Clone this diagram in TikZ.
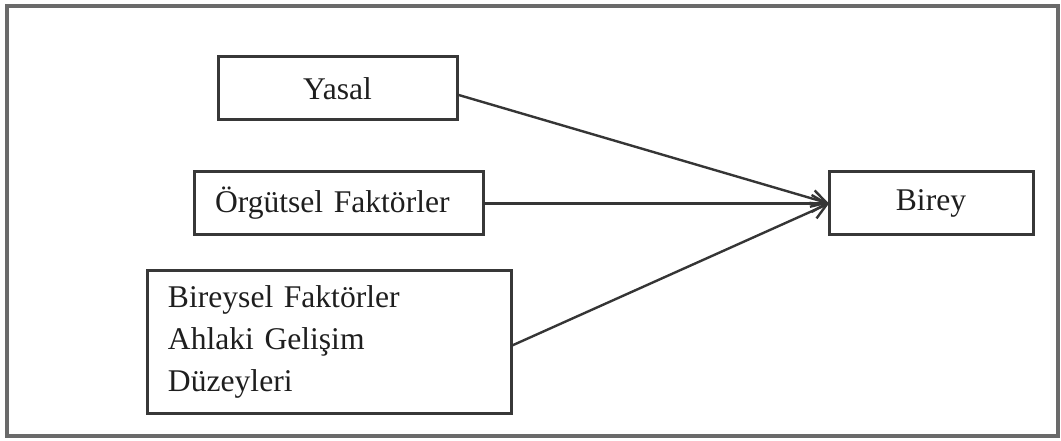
\documentclass[tikz,border=0pt]{standalone}
\usepackage{fontspec}
\setmainfont{Liberation Serif}
\usetikzlibrary{arrows.meta}
\definecolor{framegray}{HTML}{6A6A6A}
\definecolor{boxgray}{HTML}{383838}
\definecolor{inkgray}{HTML}{1E1E1E}
\begin{document}
\begin{tikzpicture}[x=1bp,y=-1bp,
  box/.style={draw=boxgray,line width=3bp,rectangle,inner sep=0pt,outer sep=0pt,
    text=inkgray,font=\fontsize{31.6bp}{42bp}\selectfont},
  leftbox/.style={box,align=left,inner xsep=20bp},
  link/.style={draw=inkgray!90!white,line width=2.4bp,-{Straight Barb[length=15bp,width=17bp,line width=2.4bp]}}]
  \useasboundingbox (0,0) rectangle (1061,441);
  % outer frame
  \draw[framegray,line width=3.5bp] (7,6) rectangle (1058,436);
  % factor boxes
  \node[box,minimum width=239bp,minimum height=63bp] (yasal) at (337.5,88.5) {Yasal};
  \node[leftbox,inner xsep=21bp,text width=247bp,minimum height=63bp] (orgut) at (338.5,203.5) {Örgütsel Faktörler};
  \node[leftbox,text width=323bp,minimum height=142bp] (birfak) at (329.5,342)
    {Bireysel Faktörler\\Ahlaki Gelişim\\Düzeyleri};
  % target box
  \node[box,minimum width=204bp,minimum height=63bp] (birey) at (931,203.5) {Birey};
  % influences
  \draw[link] ([yshift=-6bp]yasal.east) -- (birey.west);
  \draw[link] (orgut.east) -- (birey.west);
  \draw[link] ([yshift=-4bp]birfak.east) -- (birey.west);
\end{tikzpicture}
\end{document}
